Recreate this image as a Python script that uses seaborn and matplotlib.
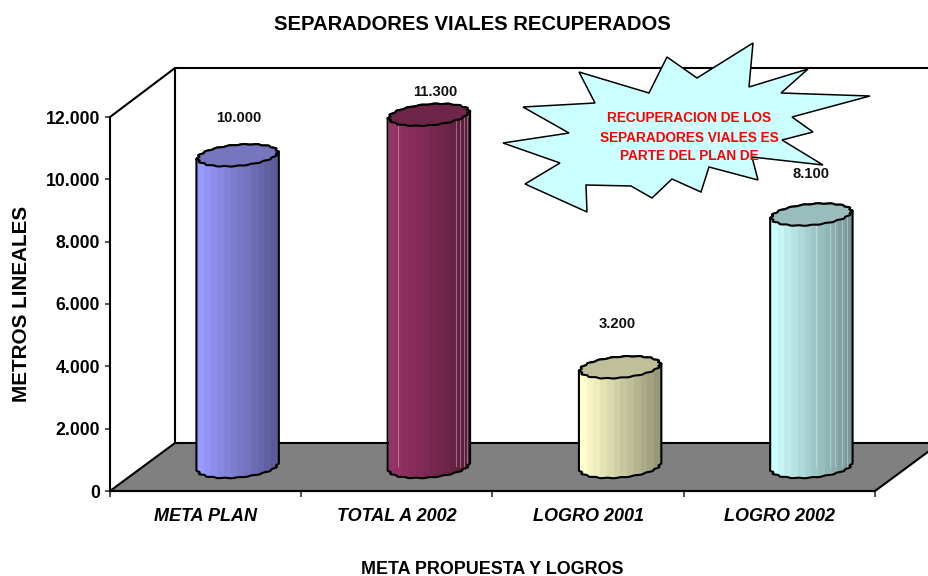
import numpy as np
import pandas as pd
import matplotlib
matplotlib.use("Agg")
import matplotlib.pyplot as plt
import matplotlib.colors as mcolors
from matplotlib.patches import Polygon
from matplotlib.transforms import Affine2D, ScaledTranslation
import seaborn as sns

categories = ["META PLAN", "TOTAL A 2002", "LOGRO 2001", "LOGRO 2002"]
values = [10000, 11300, 3200, 8100]
value_labels = ["10.000", "11.300", "3.200", "8.100"]
y_ticks = [0, 2000, 4000, 6000, 8000, 10000, 12000]
y_tick_labels = ["0", "2.000", "4.000", "6.000", "8.000", "10.000", "12.000"]

colors = ["#9999FF", "#993366", "#FFFFCC", "#CCFFFF"]
cap_colors = ["#7676BE", "#6E2549", "#BFBF99", "#99BDBD"]
# thin light streaks the old chart has in some of the cylinders (fraction of width)
streaks = [[], [0.12, 0.84, 0.89, 0.94, 0.97], [], [0.13, 0.56, 0.73, 0.79, 0.88, 0.94]]
# where each label sits relative to the top of its cylinder, in pixels
label_nudge = [(1, 37), (6, 23), (-3, 43), (0, 41)]

# callout outline, pixels from the top left corner
star_x = [753, 749, 808, 781, 870, 792, 813, 782, 823, 752, 758, 709, 701, 672, 652, 631, 586, 587,
          525, 560, 503, 569, 523, 595, 579, 649, 667, 697]
star_y = [43, 87, 69, 93, 96, 117, 132, 140, 165, 157, 180, 167, 192, 179, 198, 186, 185, 212,
          184, 163, 143, 133, 107, 103, 72, 93, 57, 78]

W, H = 929, 576

sns.set_style("white")
plt.rcParams["font.family"] = ["Liberation Sans", "DejaVu Sans"]
plt.rcParams["font.weight"] = "bold"

fig = plt.figure(figsize=(W / 100, H / 100), dpi=100)
ax = fig.add_axes([110 / W, 1 - 491 / H, 765 / W, 374 / H])
ax.patch.set_visible(False)

# pixel coordinates for the 3d frame
px = Affine2D().scale(1 / W, -1 / H).translate(0, 1) + fig.transFigure
# cylinders stand half way into the floor
off = ax.transData + ScaledTranslation(32 / 100, 24 / 100, fig.dpi_scale_trans)

df = pd.DataFrame({"cat": categories, "val": values})
sns.barplot(data=df, x="cat", y="val", hue="cat", palette=colors, width=0.42,
            legend=False, ax=ax, zorder=2)
bars = [p for p in ax.patches if p.get_height() > 0]
ax.set_xlim(-0.5, len(categories) - 0.5)
ax.set_ylim(0, 12000)
ax.set_xlabel("")
ax.set_ylabel("")

# floor and walls
ax.add_patch(Polygon([(110, 491), (175, 443), (940, 443), (875, 491)], closed=True, transform=px,
                     facecolor="#808080", edgecolor="black", lw=1.5, clip_on=False, zorder=1))
ax.plot([110, 175, 175], [117, 68, 443], transform=px, color="black", lw=1.5, clip_on=False, zorder=1.5)
ax.plot([175, 940], [68, 68], transform=px, color="black", lw=1.5, clip_on=False, zorder=1.5)

sns.despine(ax=ax, top=True, right=True)
for side in ["left", "bottom"]:
    ax.spines[side].set_color("black")
    ax.spines[side].set_linewidth(1.5)

ax.set_yticks(y_ticks)
ax.set_yticklabels(y_tick_labels, fontsize=12.7, fontweight="bold", color="black")
ax.set_xticks(range(len(categories)))
ax.set_xticklabels(categories, fontsize=13, fontweight="bold", fontstyle="italic", color="black")
ax.set_xticks(np.arange(len(categories) + 1) - 0.5, minor=True)
ax.tick_params(axis="y", left=True, length=3.6, width=1.1, pad=3.6)
ax.tick_params(axis="x", which="major", bottom=False, length=0, pad=12)
ax.tick_params(axis="x", which="minor", bottom=True, length=4.5, width=1.1)

ux = len(categories) / ax.get_window_extent().width
uy = 12000 / ax.get_window_extent().height


def ellipse(cx, cy, a, b, t):
    # scalloped tilted ellipse, t in radians, sizes in pixels
    phi = np.deg2rad(5)
    r = 1 + 0.03 * np.cos(18 * t)
    xx = a * r * np.cos(t) * np.cos(phi) - b * r * np.sin(t) * np.sin(phi)
    yy = a * r * np.cos(t) * np.sin(phi) + b * r * np.sin(t) * np.cos(phi)
    return np.column_stack([cx + xx * ux, cy + yy * uy])


def clip_to(artist, patch):
    artist.set_clip_path(patch)
    artist.set_clip_box(None)


for i, bar in enumerate(bars):
    x0 = bar.get_x()
    bw = bar.get_width()
    h = bar.get_height()
    cx = x0 + bw / 2
    a = bw / 2 / ux
    bar.set_transform(off)

    lower = ellipse(cx, 0, a, 10.5, np.linspace(np.pi, 2 * np.pi, 80))
    upper = ellipse(cx, h, a, 10.5, np.linspace(0, np.pi, 80))
    body = Polygon(np.vstack([lower, upper]), closed=True, transform=off, facecolor="none",
                   edgecolor="black", lw=1.5, clip_on=False, zorder=5)
    ax.add_patch(body)
    clip_to(bar, body)

    # banded shading, light on the left and dark on the right
    base = np.array(mcolors.to_rgb(colors[i]))
    shades = np.linspace(1.0, 0.6, 12)[None, :, None] * base
    im = ax.imshow(shades, extent=[x0, x0 + bw, -1500, h + 1500], aspect="auto",
                   interpolation="nearest", zorder=3)
    im.set_transform(off)
    clip_to(im, body)

    for f in streaks[i]:
        ln = ax.vlines(x0 + f * bw, 0, h, transform=off, color="white", alpha=0.35, lw=0.7, zorder=4)
        clip_to(ln, body)

    cap = ellipse(cx, h, a, 10.5, np.linspace(0, 2 * np.pi, 160))
    ax.add_patch(Polygon(cap, closed=True, transform=off, facecolor=cap_colors[i], edgecolor="black",
                         lw=1.5, clip_on=False, zorder=6))

    ax.annotate(value_labels[i], (cx, values[i]), xycoords=off,
                xytext=(label_nudge[i][0] * 0.72, label_nudge[i][1] * 0.72), textcoords="offset points",
                ha="center", va="center", fontsize=10.6, fontweight="bold", color="#111111", zorder=7)

# callout
ax.add_patch(Polygon(np.column_stack([star_x, star_y]), closed=True, transform=px, facecolor="#CCFFFF",
                     edgecolor="black", lw=1.1, clip_on=False, zorder=8))
callout_lines = ["RECUPERACION DE LOS", "SEPARADORES VIALES ES", "PARTE DEL PLAN DE"]
callout_y = [118, 138, 156]
for line, yy in zip(callout_lines, callout_y):
    ax.text(689, yy, line, transform=px, ha="center", va="center", fontsize=9.85, fontweight="bold",
            color="#FF0000", zorder=9)

fig.text(472 / W, 1 - 25 / H, "SEPARADORES VIALES RECUPERADOS", ha="center", va="center",
         fontsize=14.6, fontweight="bold", color="black")
fig.text(492 / W, 1 - 569 / H, "META PROPUESTA Y LOGROS", ha="center", va="center",
         fontsize=12.9, fontweight="bold", color="black")
fig.text(22 / W, 1 - 304 / H, "METROS LINEALES", rotation=90, ha="center", va="center",
         fontsize=14.9, fontweight="bold", color="black")

fig.savefig("out.png", dpi=100)
